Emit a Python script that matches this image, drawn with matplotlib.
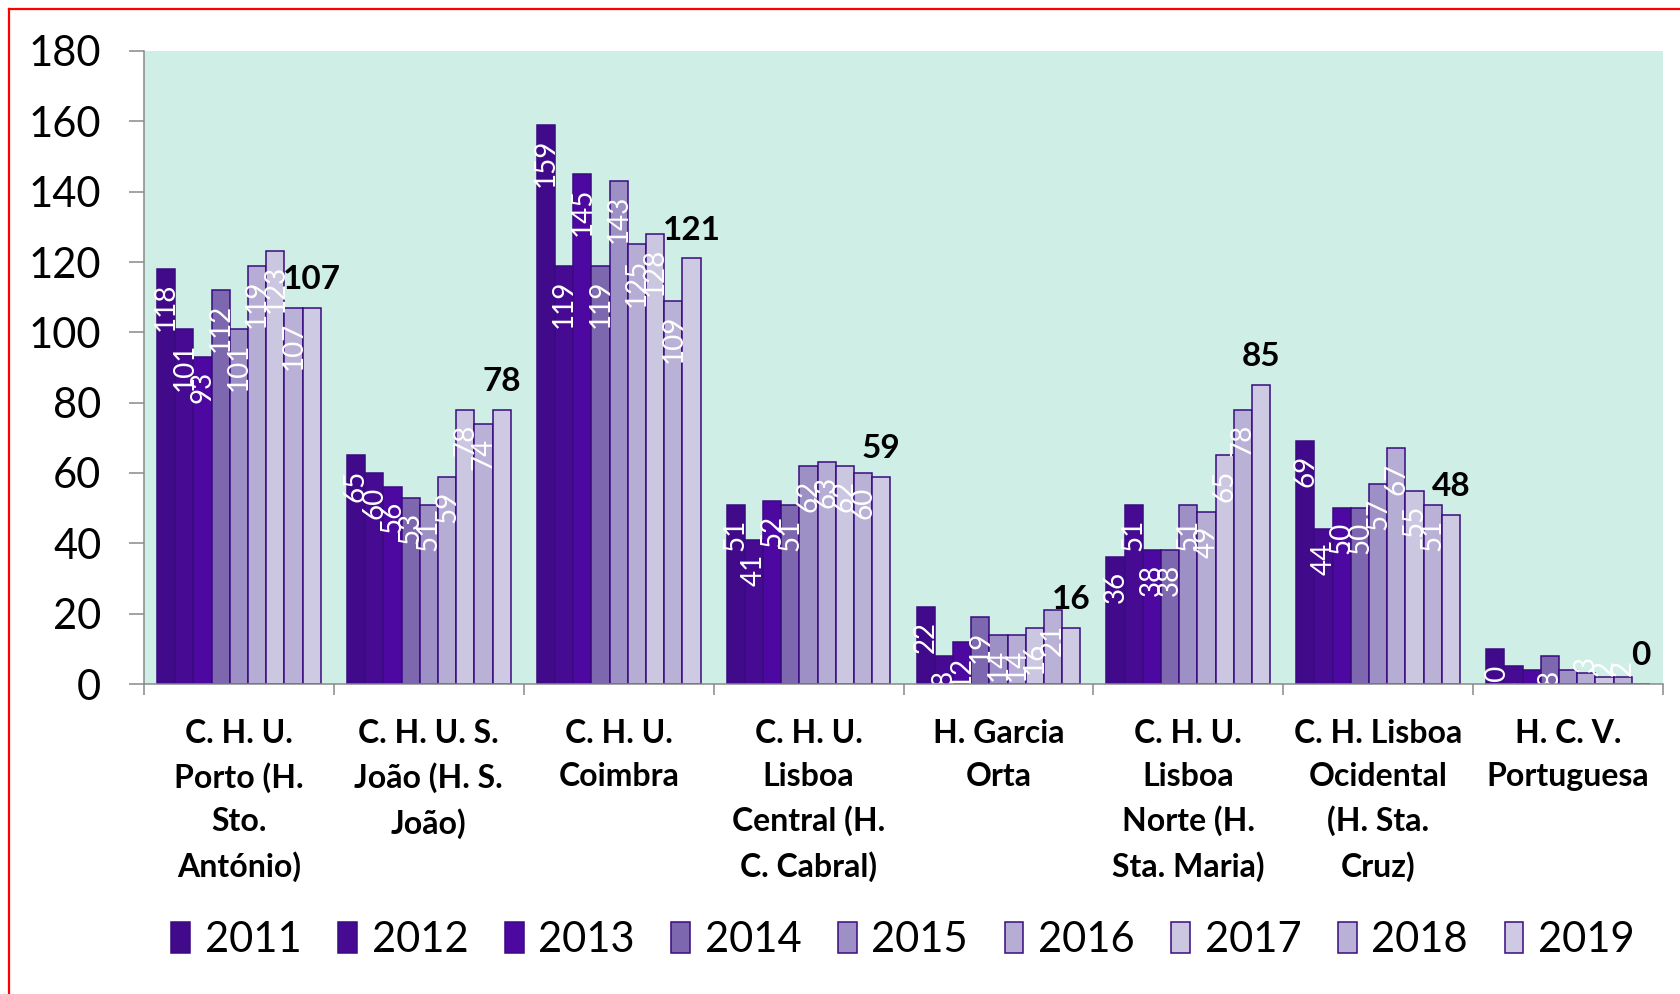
import matplotlib
matplotlib.use('Agg')
import matplotlib.pyplot as plt
import numpy as np
from matplotlib.lines import Line2D

categories = [
    "C. H. U.\nPorto (H.\nSto.\nAntónio)",
    "C. H. U. S.\nJoão (H. S.\nJoão)",
    "C. H. U.\nCoimbra",
    "C. H. U.\nLisboa\nCentral (H.\nC. Cabral)",
    "H. Garcia\nOrta",
    "C. H. U.\nLisboa\nNorte (H.\nSta. Maria)",
    "C. H. Lisboa\nOcidental\n(H. Sta.\nCruz)",
    "H. C. V.\nPortuguesa",
]
years = ["2011", "2012", "2013", "2014", "2015", "2016", "2017", "2018", "2019"]

v2011 = [118, 65, 159, 51, 22, 36, 69, 10]
v2012 = [101, 60, 119, 41, 8, 51, 44, 5]
v2013 = [93, 56, 145, 52, 12, 38, 50, 4]
v2014 = [112, 53, 119, 51, 19, 38, 50, 8]
v2015 = [101, 51, 143, 62, 14, 51, 57, 4]
v2016 = [119, 59, 125, 63, 14, 49, 67, 3]
v2017 = [123, 78, 128, 62, 16, 65, 55, 2]
v2018 = [107, 74, 109, 60, 21, 78, 51, 2]
v2019 = [107, 78, 121, 59, 16, 85, 48, 0]
series = [v2011, v2012, v2013, v2014, v2015, v2016, v2017, v2018, v2019]

colors = ["#410A8A", "#460A93", "#4C08A0", "#7D68B0", "#9D90C5",
          "#B5ADD3", "#CCC7E1", "#B9B1D6", "#CECAE3"]
edge = "#3A0A80"
bg = "#CFEEE6"
axis_gray = "#898989"

W, H = 1680, 994
fig = plt.figure(figsize=(W / 100, H / 100), dpi=100)
fig.patch.set_facecolor("white")
ax = fig.add_axes([144 / W, 1 - 684 / H, (1663 - 144) / W, (684 - 51) / H])
ax.set_facecolor(bg)

n = len(series)
group_w = 0.863
bw = group_w / n
x = np.arange(len(categories))

handles = []
for i, (vals, c, yr) in enumerate(zip(series, colors, years)):
    pos = x - group_w / 2 + bw * (i + 0.5)
    bars = ax.bar(pos, vals, width=bw, color=c, edgecolor=edge, linewidth=1.1,
                  label=yr, zorder=2)
    handles.append(bars)
    for xp, v in zip(pos, vals):
        if i < n - 1:
            if v < 4:
                ax.annotate(str(v), xy=(xp, v), xytext=(0, 1), textcoords="offset points",
                            ha="center", va="bottom", rotation=90, color="white",
                            fontsize=20, family="Lato", zorder=3, annotation_clip=False)
            else:
                t = ax.annotate(str(v), xy=(xp, v), xytext=(0, -10), textcoords="offset points",
                                ha="center", va="top", rotation=90, color="white",
                                fontsize=20, family="Lato", zorder=3)
                t.set_clip_on(True)
        else:
            ax.annotate(str(v), xy=(xp, v), xytext=(0, 10), textcoords="offset points",
                        ha="center", va="bottom", color="black", fontsize=24,
                        fontweight="bold", family="Lato", zorder=3)

ax.set_xlim(-0.5, len(categories) - 0.5)
ax.set_ylim(0, 180)
ax.set_yticks(np.arange(0, 181, 20))
ax.tick_params(axis="y", length=10.8, width=1.1, color=axis_gray, pad=20,
               labelsize=30)
for lab in ax.get_yticklabels():
    lab.set_family("Lato")

ax.set_xticks(x)
ax.set_xticklabels(categories, fontsize=23, fontweight="bold", family="Lato",
                   linespacing=1.58, va="top")
ax.tick_params(axis="x", which="major", length=0, pad=25)
ax.set_xticks(np.arange(-0.5, len(categories), 1.0), minor=True)
ax.tick_params(axis="x", which="minor", length=8, width=1.1, color=axis_gray)

for s in ["top", "right"]:
    ax.spines[s].set_visible(False)
for s in ["left", "bottom"]:
    ax.spines[s].set_color(axis_gray)
    ax.spines[s].set_linewidth(1.1)
    ax.spines[s].set_zorder(4)

leg = fig.legend(handles=handles, labels=years, loc="center",
                 bbox_to_anchor=(903 / W, 1 - 940 / H), ncol=9, frameon=False,
                 prop={"family": "Lato", "size": 30},
                 handlelength=0.45, handleheight=0.8, handletextpad=0.35,
                 columnspacing=0.88)

# red frame lines (top and left)
fig.add_artist(Line2D([9 / W, 9 / W], [0, 1 - 8.5 / H], transform=fig.transFigure,
                      color="#FF0000", linewidth=1.6))
fig.add_artist(Line2D([9 / W, 1], [1 - 8.5 / H, 1 - 8.5 / H], transform=fig.transFigure,
                      color="#FF0000", linewidth=1.6))

fig.savefig("out.png", dpi=100, facecolor="white")
